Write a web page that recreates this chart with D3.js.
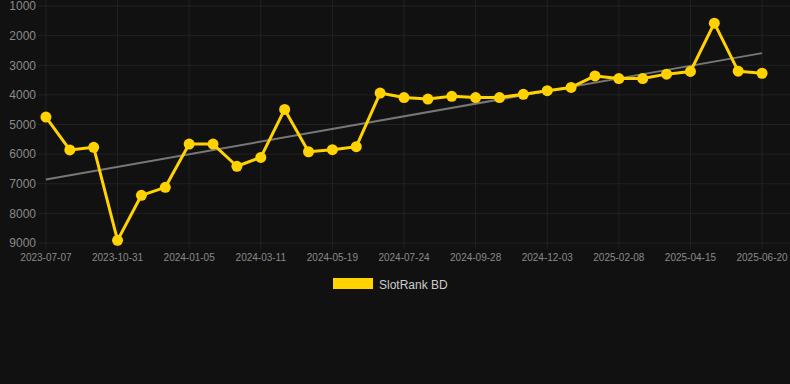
<!DOCTYPE html>
<html>
<head>
<meta charset="utf-8">
<script src="https://cdn.jsdelivr.net/npm/d3@7"></script>
<style>
  html, body { margin: 0; padding: 0; background: #111111; }
  svg { display: block; }
</style>
</head>
<body>
<svg id="chart" width="790" height="384"></svg>
<script>
// ---- data ----
const dates = [
  "2023-07-07", "2023-08-15", "2023-09-23",
  "2023-10-31", "2023-11-22", "2023-12-14",
  "2024-01-05", "2024-01-27", "2024-02-18",
  "2024-03-11", "2024-04-03", "2024-04-26",
  "2024-05-19", "2024-06-10", "2024-07-02",
  "2024-07-24", "2024-08-15", "2024-09-06",
  "2024-09-28", "2024-10-20", "2024-11-11",
  "2024-12-03", "2024-12-25", "2025-01-17",
  "2025-02-08", "2025-03-02", "2025-03-24",
  "2025-04-15", "2025-05-07", "2025-05-29",
  "2025-06-20"
];
const rankValues = [
  4750, 5860, 5770, 8910, 7390, 7120, 5660, 5660, 6410, 6110,
  4490, 5920, 5850, 5750, 3940, 4090, 4140, 4050, 4090, 4090,
  3980, 3860, 3750, 3360, 3450, 3450, 3300, 3210, 1580, 3200,
  3270
];
const xTickLabels = [
  "2023-07-07", "2023-10-31", "2024-01-05", "2024-03-11", "2024-05-19",
  "2024-07-24", "2024-09-28", "2024-12-03", "2025-02-08", "2025-04-15",
  "2025-06-20"
];
const yTicks = [1000, 2000, 3000, 4000, 5000, 6000, 7000, 8000, 9000];
const seriesName = "SlotRank BD";

// ---- layout ----
const W = 790, H = 384;
const plotLeft = 38, plotRight = 790;
const bandLeft = 34, bandRight = 774;
const plotTop = 6, plotBottom = 243;
const lineColor = "#FFD200";
const gridColor = "#222222";

const svg = d3.select("#chart");
svg.append("rect").attr("width", W).attr("height", H).attr("fill", "#111111");

const x = d3.scaleBand().domain(dates).range([bandLeft, bandRight]);
const xc = d => x(d) + x.bandwidth() / 2;
const y = d3.scaleLinear().domain([1000, 9000]).range([plotTop, plotBottom]);

// horizontal grid
svg.append("g").selectAll("line").data(yTicks).join("line")
  .attr("x1", plotLeft).attr("x2", plotRight)
  .attr("y1", d => y(d)).attr("y2", d => y(d))
  .attr("stroke", gridColor).attr("stroke-width", 1);

// vertical grid + ticks
svg.append("g").selectAll("line").data(xTickLabels).join("line")
  .attr("x1", d => xc(d)).attr("x2", d => xc(d))
  .attr("y1", 0).attr("y2", plotBottom + 6)
  .attr("stroke", gridColor).attr("stroke-width", 1);

// y axis labels
const yAxis = d3.axisLeft(y).tickValues(yTicks).tickSize(0).tickPadding(0).tickFormat(d3.format("d"));
const gy = svg.append("g").attr("transform", "translate(36,0)").call(yAxis);
gy.select(".domain").remove();
gy.selectAll("text")
  .attr("fill", "#8a8a8a")
  .style("font-family", "Liberation Sans, Arial, sans-serif")
  .style("font-size", "12px");

// x axis labels
const xAxis = d3.axisBottom(x).tickValues(xTickLabels).tickSize(0).tickPadding(0);
const gx = svg.append("g").attr("transform", "translate(0,254)").call(xAxis);
gx.select(".domain").remove();
gx.selectAll("text")
  .attr("fill", "#8a8a8a")
  .style("font-family", "Liberation Sans, Arial, sans-serif")
  .style("font-size", "10px");

// trend line (least squares on index)
const n = rankValues.length;
const idx = d3.range(n);
const mx = d3.mean(idx), my = d3.mean(rankValues);
const slope = d3.sum(idx, i => (i - mx) * (rankValues[i] - my)) / d3.sum(idx, i => (i - mx) ** 2);
const intercept = my - slope * mx;
svg.append("line")
  .attr("x1", xc(dates[0])).attr("y1", y(intercept))
  .attr("x2", xc(dates[n - 1])).attr("y2", y(intercept + slope * (n - 1)))
  .attr("stroke", "#777777").attr("stroke-width", 2);

// series line
const line = d3.line().x((d, i) => xc(dates[i])).y(d => y(d));
svg.append("path").datum(rankValues)
  .attr("d", line).attr("fill", "none")
  .attr("stroke", lineColor).attr("stroke-width", 3)
  .attr("stroke-linejoin", "round");

svg.append("g").selectAll("circle").data(rankValues).join("circle")
  .attr("cx", (d, i) => xc(dates[i])).attr("cy", d => y(d))
  .attr("r", 5.5).attr("fill", lineColor);

// legend
const lg = svg.append("g");
lg.append("rect").attr("x", 333).attr("y", 278).attr("width", 40).attr("height", 11)
  .attr("fill", lineColor);
lg.append("text").attr("x", 379).attr("y", 289)
  .attr("fill", "#cccccc")
  .style("font-family", "Liberation Sans, Arial, sans-serif")
  .style("font-size", "12px")
  .text(seriesName);
</script>
</body>
</html>
